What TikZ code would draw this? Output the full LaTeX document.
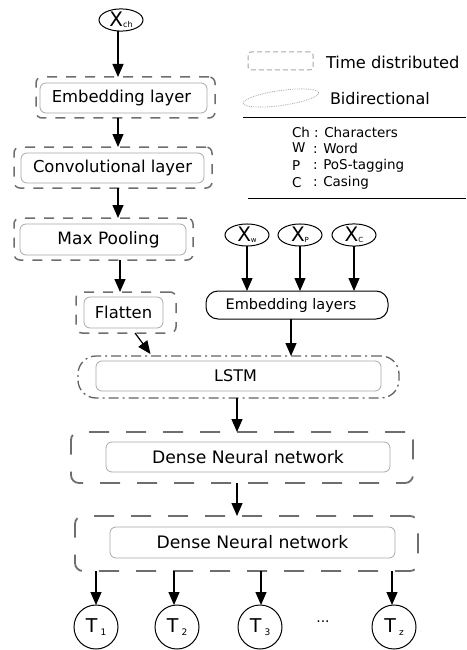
\documentclass[tikz,border=0pt]{standalone}
\usepackage{fontspec}
\setmainfont{DejaVu Sans}
\usetikzlibrary{arrows.meta,shapes.geometric}
\definecolor{tdgray}{HTML}{6E6E6E}
\definecolor{innergray}{HTML}{A8A8A8}
\tikzset{
  every node/.style={inner sep=0pt, outer sep=0pt},
  tdsmall/.style={draw=tdgray, line width=1.5pt, dash pattern=on 10pt off 9pt, rounded corners=6pt, rectangle},
  tdbig/.style={draw=tdgray, line width=1.8pt, dash pattern=on 20pt off 17pt, rounded corners=8pt, rectangle},
  innerbox/.style={draw=innergray, line width=0.8pt, rounded corners=6pt, rectangle, font=\fontsize{16.4}{18}\selectfont},
  inp/.style={draw, ellipse, line width=1pt, minimum width=44pt, minimum height=22pt},
  outc/.style={draw, circle, line width=1pt, minimum size=44pt},
  arr/.style={line width=1.2pt, -{Triangle[length=13pt,width=11pt]}},
  legtxt/.style={anchor=west, font=\fontsize{13.5}{15}\selectfont},
}
\begin{document}
\begin{tikzpicture}[x=1pt,y=-1pt]
\useasboundingbox (0,0) rectangle (466,650);
% inputs
\node[inp] (xch) at (121,20) {\fontsize{20}{20}\selectfont X\raisebox{-1pt}{\fontsize{8}{8}\selectfont ch}};
\node[inp] (xw) at (247,235) {\fontsize{20}{20}\selectfont X\raisebox{-1pt}{\fontsize{7}{7}\selectfont w}};
\node[inp] (xp) at (300,235) {\fontsize{20}{20}\selectfont X\raisebox{-1pt}{\fontsize{7}{7}\selectfont P}};
\node[inp] (xc) at (354,235) {\fontsize{20}{20}\selectfont X\raisebox{-1pt}{\fontsize{7}{7}\selectfont C}};
% char branch
\node[tdsmall, minimum width=179pt, minimum height=41pt] (embtd) at (125.5,97.5) {};
\node[innerbox, minimum width=167pt, minimum height=30pt] (emb) at (123.5,98) {Embedding layer\hspace*{4pt}};
\node[tdsmall, minimum width=198pt, minimum height=41pt] (convtd) at (113,167.5) {};
\node[innerbox, minimum width=183pt, minimum height=30pt] (conv) at (112.5,168) {Convolutional layer};
\node[tdsmall, minimum width=179pt, minimum height=42pt] (pooltd) at (103.5,239) {};
\node[innerbox, minimum width=166pt, minimum height=31pt, font=\fontsize{17}{18}\selectfont] (pool) at (103,239.5) {\hspace*{11pt}Max Pooling};
\node[tdsmall, minimum width=100pt, minimum height=41pt] (flattd) at (126,312.5) {};
\node[innerbox, minimum width=79pt, minimum height=31pt] (flat) at (123.5,312.5) {Flatten};
% word branch
\node[draw, line width=1pt, rounded corners=12pt, minimum width=182pt, minimum height=28pt, font=\fontsize{14.5}{16}\selectfont] (embs) at (297,305) {Embedding layers\hspace*{12pt}};
% LSTM
\node[draw=tdgray!90!black, line width=1.3pt, dash pattern=on 10pt off 4pt on 2pt off 4pt, rounded corners=18pt, minimum width=321pt, minimum height=42pt] (lstmtd) at (238.5,377) {};
\node[innerbox, minimum width=285pt, minimum height=30pt, font=\fontsize{16}{18}\selectfont] (lstm) at (238.5,376) {LSTM\hspace*{6pt}};
% dense
\node[tdbig, minimum width=342pt, minimum height=51pt] (d1td) at (242,457.5) {};
\node[innerbox, minimum width=284pt, minimum height=30pt, font=\fontsize{17.2}{19}\selectfont] (d1) at (248,457) {Dense Neural network};
\node[tdbig, minimum width=343pt, minimum height=55pt] (d2td) at (246.5,543.5) {};
\node[innerbox, minimum width=285pt, minimum height=31pt, font=\fontsize{17.2}{19}\selectfont] (d2) at (252.5,542.5) {Dense Neural network};
% outputs
\node[outc] (t1) at (96,627) {\fontsize{19}{19}\selectfont T\,\raisebox{-3pt}{\fontsize{9}{9}\selectfont 1}};
\node[outc] (t2) at (177,627) {\fontsize{19}{19}\selectfont T\,\raisebox{-3pt}{\fontsize{9}{9}\selectfont 2}};
\node[outc] (t3) at (260,627) {\fontsize{19}{19}\selectfont T\,\raisebox{-3pt}{\fontsize{9}{9}\selectfont 3}};
\node[font=\fontsize{14}{14}\selectfont] (dots) at (323,622) {...};
\node[outc] (tz) at (394,627) {\fontsize{19}{19}\selectfont T\,\raisebox{-3pt}{\fontsize{9}{9}\selectfont z}};
% arrows
\draw[arr] ([xshift=-3pt]xch.south) -- ([xshift=-3pt]xch.south |- embtd.north);
\draw[arr] (118,118) coordinate (a1) (emb.south -| a1) ++(0,5) -- (a1 |- convtd.north);
\draw[arr] (118,188) coordinate (a2) (conv.south -| a2) ++(0,5) -- (a2 |- pooltd.north);
\draw[arr] (120,262) coordinate (a3) (pooltd.south -| a3) -- (a3 |- flattd.north);
\draw[arr] ([xshift=9pt]flattd.south) -- ([xshift=-88pt,yshift=2pt]lstmtd.north);
\draw[arr] (xw.south) -- (xw.south |- embs.north);
\draw[arr] (xp.south) -- (xp.south |- embs.north);
\draw[arr] (xc.south) -- (xc.south |- embs.north);
\draw[arr] ([xshift=-6pt]embs.south) -- ([xshift=-6pt]embs.south |- lstmtd.north);
\draw[arr] ([xshift=-1.5pt]lstmtd.south) -- ([xshift=-1.5pt]lstmtd.south |- d1td.north);
\draw[arr] ([xshift=-5pt]d1td.south) -- ([xshift=-5pt]d1td.south |- d2td.north);
\draw[arr] (t1.north |- d2td.south) -- (t1.north);
\draw[arr] ([xshift=-3pt]t2.north |- d2td.south) -- ([xshift=-3pt]t2.north);
\draw[arr] ([xshift=1pt]t3.north |- d2td.south) -- ([xshift=1pt]t3.north);
\draw[arr] ([xshift=-2pt]tz.north |- d2td.south) -- ([xshift=-2pt]tz.north);
% legend
\node[draw=innergray, line width=1pt, dash pattern=on 5pt off 3pt, rounded corners=3pt, minimum width=65pt, minimum height=18pt] (legtd) at (280.5,61) {};
\node[anchor=west, font=\fontsize{16.3}{18}\selectfont] (legtdt) at (326,62) {Time distributed};
\draw[innergray, line width=0.8pt, densely dotted, rotate around={8:(281,98)}] (281,98) ellipse (38 and 7.5);
\node[anchor=west, font=\fontsize{16}{18}\selectfont] (legbit) at (330,99) {Bidirectional};
\coordinate (l1a) at (243,118); \coordinate (l1b) at (466,118);
\draw[line width=1pt] (l1a) -- (l1b);
\node[legtxt] (k1) at (292,132) {Ch};
\node[legtxt] (k2) at (292,148) {W};
\node[legtxt] (k3) at (292,166) {P};
\node[legtxt] (k4) at (292,183) {C};
\node[legtxt] (v1) at (314,132) {: Characters};
\node[legtxt] (v2) at (313,148) {: Word};
\node[legtxt] (v3) at (313,166) {: PoS-tagging};
\node[legtxt] (v4) at (313,183) {: Casing};
\coordinate (l2a) at (248,198); \coordinate (l2b) at (466,198);
\draw[line width=1pt] (l2a) -- (l2b);
\end{tikzpicture}
\end{document}
